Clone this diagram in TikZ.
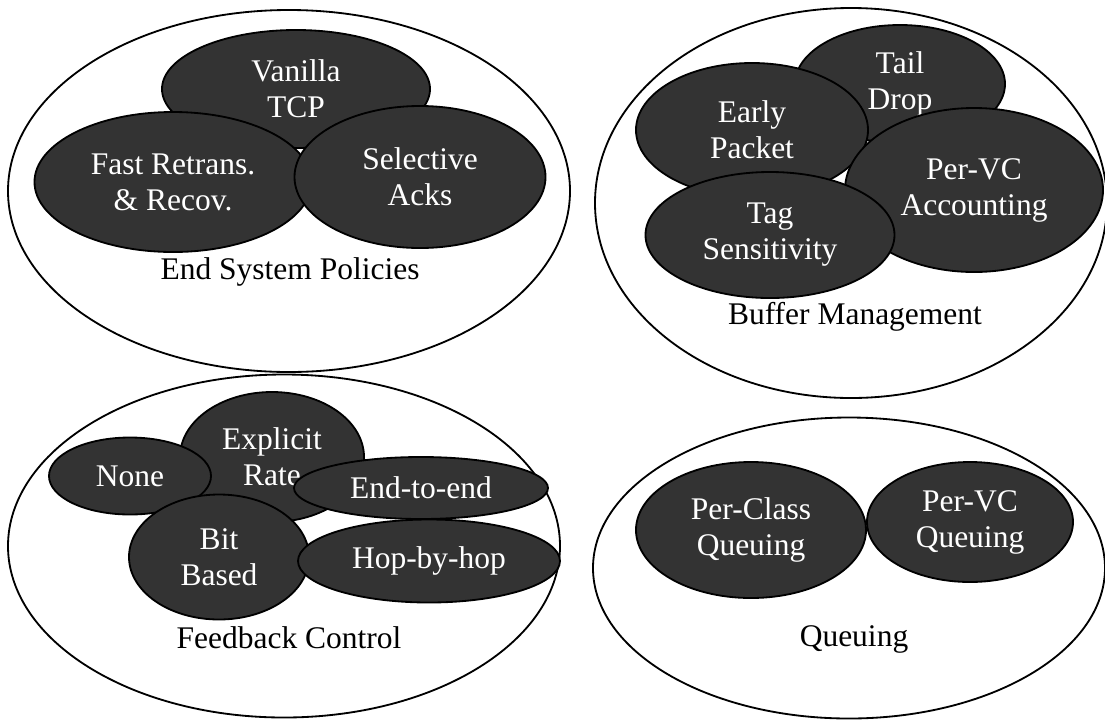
\documentclass[tikz,border=0pt]{standalone}
\usepackage{fontspec}
\setmainfont{Liberation Serif}
\usetikzlibrary{shapes.geometric}
\definecolor{blobgray}{RGB}{51,51,51}
\begin{document}
\begin{tikzpicture}[x=0.025cm, y=-0.025cm]
\tikzset{ inner sep=0pt, outer sep=0pt,
  every node/.style={font=\fontsize{22.4}{25.6}\selectfont, align=center},
  ewh/.style 2 args={minimum width=#1*0.025cm, minimum height=#2*0.025cm},
  area/.style={draw, ellipse, line width=1.3pt},
  blob/.style={draw, ellipse, line width=1.3pt, fill=blobgray, text=white},
}

\useasboundingbox (0,0) rectangle (1105,719);

% end system policies
\node [area, ewh={562}{362}] (ES) at (289,191) {};
\node [blob, ewh={268}{118}] (VT) at (296,89)  {Vanilla\\TCP};
\node [blob, ewh={277}{140}] (FR) at (173,182) {Fast Retrans.\\\& Recov.};
\node [blob, ewh={251}{142}] (SA) at (420,177) {Selective\\Acks};
\node (ESL) at (290,272) {End System Policies};

% buffer management
\node [area, ewh={512}{390}] (BM) at (851,203) {};
\node [blob, ewh={210}{118}] (TD) at (900,84)  {Tail\\Drop};
\node [blob, ewh={232}{134}] (EP) at (752,130) {Early\\Packet};
\node [blob, ewh={258}{164}] (PA) at (974,190) {Per-VC\\Accounting};
\node [blob, ewh={249}{126}] (TS) at (770,235) {Tag\\Sensitivity};
\node (BML) at (855,317) {Buffer Management};

% feedback control
\node [area, ewh={552}{343}] (FC) at (284,546) {};
\node [blob, ewh={184}{130}] (ER) at (272,457) {Explicit\\Rate};
\node [blob, ewh={162}{77}]  (NO) at (130,476) {None};
\node [blob, ewh={254}{62}]  (EE) at (421,488) {End-to-end};
\node [blob, ewh={180}{125}] (BB) at (219,557) {Bit\\Based};
\node [blob, ewh={262}{83}]  (HH) at (429,561) {Hop-by-hop};
\node (FCL) at (289,638) {Feedback Control};

% queuing
\node [area, ewh={512}{301}] (QU) at (849,568) {};
\node [blob, ewh={230}{136}] (PC) at (751,530) {Per-Class\\Queuing};
\node [blob, ewh={206}{120}] (PQ) at (970,522) {Per-VC\\Queuing};
\node (QUL) at (854,639) {Queuing};

\end{tikzpicture}
\end{document}
